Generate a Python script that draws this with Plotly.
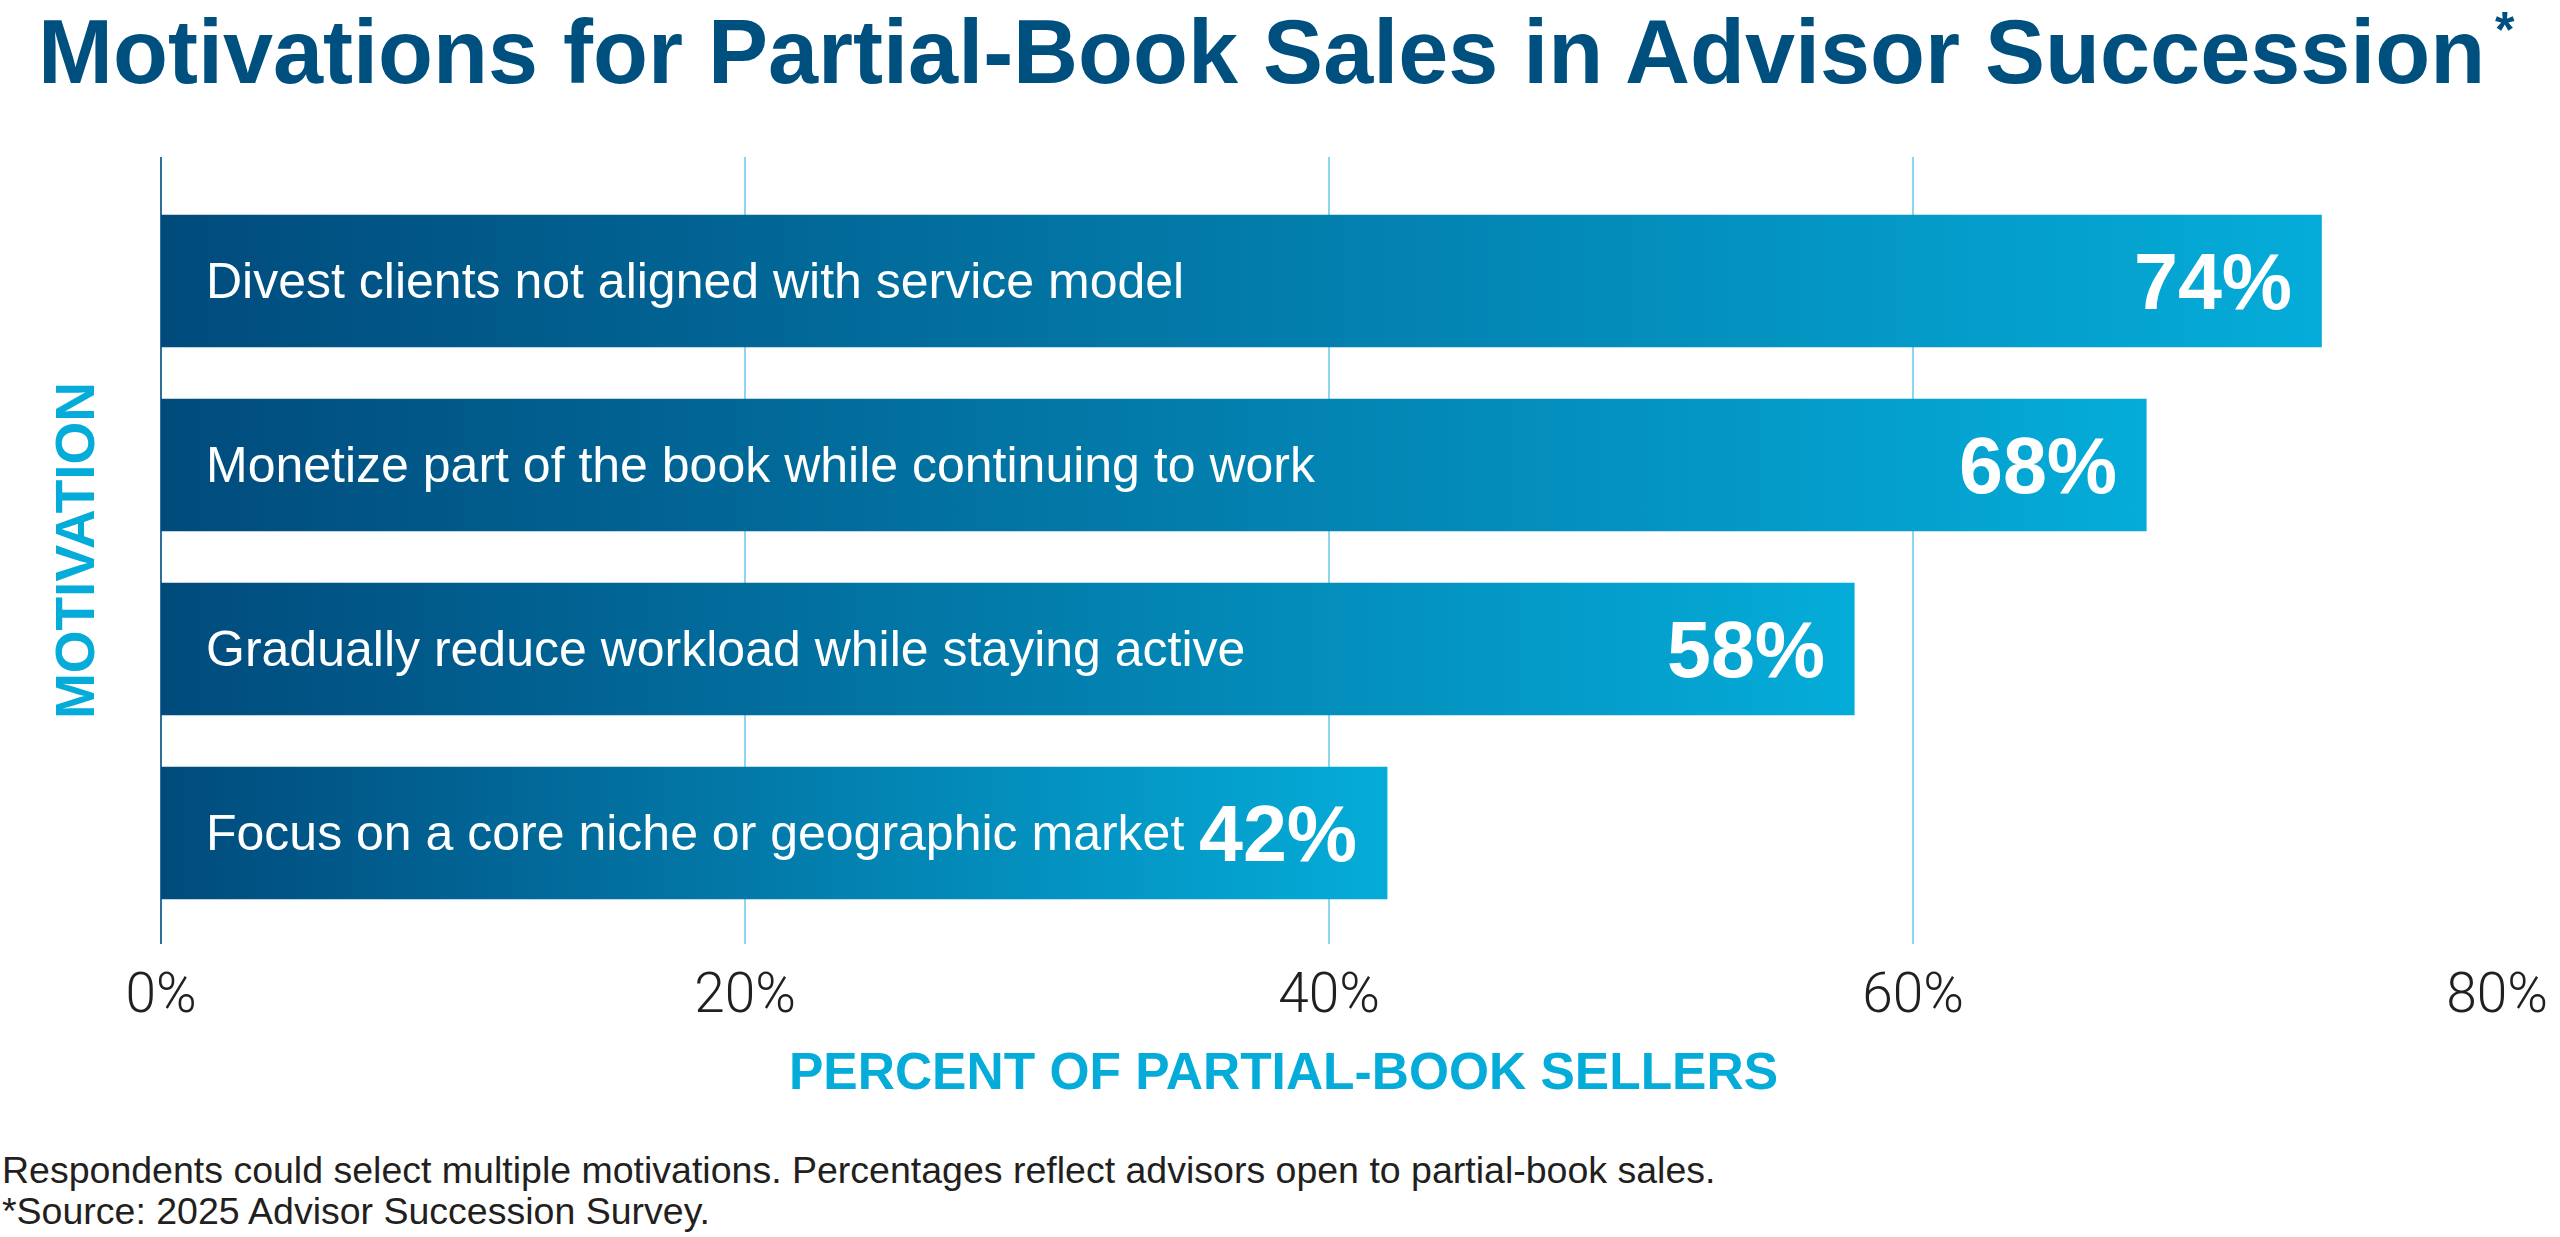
import plotly.graph_objects as go

# Chart data
motivations = [
    "Divest clients not aligned with service model",
    "Monetize part of the book while continuing to work",
    "Gradually reduce workload while staying active",
    "Focus on a core niche or geographic market",
]
shares = [74, 68, 58, 42]
x_ticks = [0, 20, 40, 60, 80]
x_tick_labels = ["0%", "20%", "40%", "60%", "80%"]

# Colours
DARK = "#004b7c"
CYAN = "#05acd9"
TITLE_BLUE = "#00507f"
TEXT = "#231f20"
GRID = "#8dd6ef"
FONT = "Liberation Sans, Arial, sans-serif"

# Page geometry (px)
W, H = 2560, 1237
ML, MR, MT, MB = 161, 61, 157, 293
PLOT_H = H - MT - MB
PLOT_W = W - ML - MR


def px_x(px):
    # page pixel -> paper x
    return (px - ML) / PLOT_W


def px_y(py):
    # page pixel -> paper y
    return (H - MB - py) / PLOT_H


BAR_W = 0.72
fig = go.Figure()

# Bars drawn as filled shapes so each gets its own horizontal gradient
for i, (name, val) in enumerate(zip(motivations, shares)):
    lo, hi = i - BAR_W / 2, i + BAR_W / 2
    fig.add_trace(go.Scatter(
        x=[0, val, val, 0, 0],
        y=[lo, lo, hi, hi, lo],
        mode="lines",
        line=dict(width=0),
        fill="toself",
        fillgradient=dict(type="horizontal", colorscale=[[0, DARK], [1, CYAN]]),
        hoverinfo="skip",
        showlegend=False,
    ))
    fig.add_annotation(
        x=0, y=i, xref="x", yref="y", text=name, showarrow=False,
        xanchor="left", yanchor="middle", xshift=43,
        font=dict(family=FONT, size=50, color="white"),
    )
    fig.add_annotation(
        x=val, y=i, xref="x", yref="y", text=f"<b>{val}%</b>", showarrow=False,
        xanchor="right", yanchor="middle", xshift=-28,
        font=dict(family=FONT, size=79, color="white"),
    )

# Title (asterisk placed on its own); both hang from the top edge
fig.add_annotation(
    x=px_x(36), y=px_y(0), xref="paper", yref="paper",
    text="<b>Motivations for Partial-Book Sales in Advisor Succession</b>",
    showarrow=False, xanchor="left", yanchor="top",
    font=dict(family=FONT, size=90, color=TITLE_BLUE),
)
fig.add_annotation(
    x=px_x(2507), y=px_y(0), xref="paper", yref="paper",
    text="<b>*</b>", showarrow=False, xanchor="center", yanchor="top",
    font=dict(family=FONT, size=50, color=TITLE_BLUE),
)

# Axis titles
fig.add_annotation(
    x=px_x(1284), y=px_y(1071), xref="paper", yref="paper",
    text="<b>PERCENT OF PARTIAL-BOOK SELLERS</b>", showarrow=False,
    xanchor="center", yanchor="middle",
    font=dict(family=FONT, size=51.5, color=CYAN),
)
fig.add_annotation(
    x=px_x(75), y=px_y(551), xref="paper", yref="paper",
    text="<b>MOTIVATION</b>", showarrow=False, textangle=-90,
    xanchor="center", yanchor="middle",
    font=dict(family=FONT, size=55, color=CYAN),
)

# Footnotes
footnotes = [
    "Respondents could select multiple motivations. Percentages reflect advisors open to partial-book sales.",
    "*Source: 2025 Advisor Succession Survey.",
]
for line, ypx in zip(footnotes, [1170, 1211]):
    fig.add_annotation(
        x=px_x(0), y=px_y(ypx), xref="paper", yref="paper", text=line,
        showarrow=False, xanchor="left", yanchor="middle",
        font=dict(family=FONT, size=37.5, color=TEXT),
    )

fig.update_xaxes(
    range=[0, 80], tickvals=x_ticks, ticktext=x_tick_labels,
    showgrid=True, gridcolor=GRID, gridwidth=2,
    zeroline=True, zerolinecolor="#2e6f9e", zerolinewidth=2,
    ticks="", ticklabelstandoff=12,
    tickfont=dict(family="Roboto", size=55, color=TEXT, weight=300),
    fixedrange=True,
)
fig.update_yaxes(
    range=[3.603, -0.674], showgrid=False, zeroline=False,
    showticklabels=False, fixedrange=True,
)

fig.update_layout(
    width=W, height=H,
    margin=dict(l=ML, r=MR, t=MT, b=MB),
    plot_bgcolor="white", paper_bgcolor="white",
    showlegend=False,
)

fig.write_html(
    "out.html",
    config={"displayModeBar": False},
    post_script="document.body.style.margin='0';document.body.style.overflow='hidden';",
)
